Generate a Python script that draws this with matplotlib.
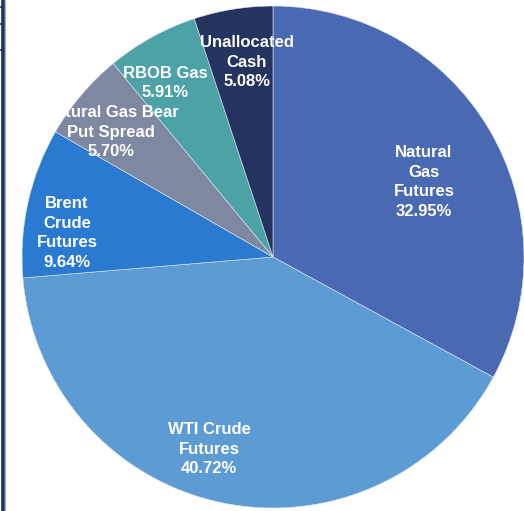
import matplotlib
matplotlib.use("Agg")
import matplotlib.pyplot as plt
from matplotlib.patches import Circle

# Portfolio allocation by holding (percent of fund)
holdings = ["Natural\nGas\nFutures", "WTI Crude\nFutures", "Brent\nCrude\nFutures",
            "Natural Gas Bear\nPut Spread", "RBOB Gas", "Unallocated\nCash"]
weights = [32.95, 40.72, 9.64, 5.70, 5.91, 5.08]
colors = ["#4a69b3", "#5c9bd4", "#2a7ad2", "#7f88a1", "#4da2a6", "#25335f"]
# label centres in pixel coordinates (x, y from top)
label_pos = [(424, 182), (209, 449), (67, 233), (111, 132), (165, 83), (247, 62)]

W, H = 524, 511
fig = plt.figure(figsize=(W / 100, H / 100), dpi=100)
ax = fig.add_axes([0, 0, 1, 1])

cx, cy, r = 273, H - 257, 251
wedges, _ = ax.pie(weights, colors=colors, startangle=90, counterclock=False,
                   center=(cx, cy), radius=r, frame=True,
                   wedgeprops=dict(linewidth=0.4, edgecolor="#dfe7f3"))
ax.set_xlim(0, W)
ax.set_ylim(0, H)
ax.set_aspect("equal")
ax.axis("off")

clip = Circle((cx, cy), r, transform=ax.transData, facecolor="none", edgecolor="none")
ax.add_patch(clip)

for name, w, (px, py) in zip(holdings, weights, label_pos):
    t = ax.text(px, H - py, f"{name}\n{w:.2f}%", ha="center", va="center",
                color="white", fontsize=12, fontweight="bold",
                family=["Liberation Sans", "DejaVu Sans"], linespacing=1.38)
    t.set_clip_path(clip)

# table border on the left edge
ax.plot([3, 3], [0, H], color="#1d3360", lw=2.6, solid_capstyle="butt")
ax.plot([5.2, 5.2], [0, H], color="#8fb3d9", lw=0.8, solid_capstyle="butt")
for yy in (7, 24, 50):
    ax.plot([0, 3], [H - yy, H - yy], color="#1d3360", lw=1.2)

fig.savefig("out.png", dpi=100)
